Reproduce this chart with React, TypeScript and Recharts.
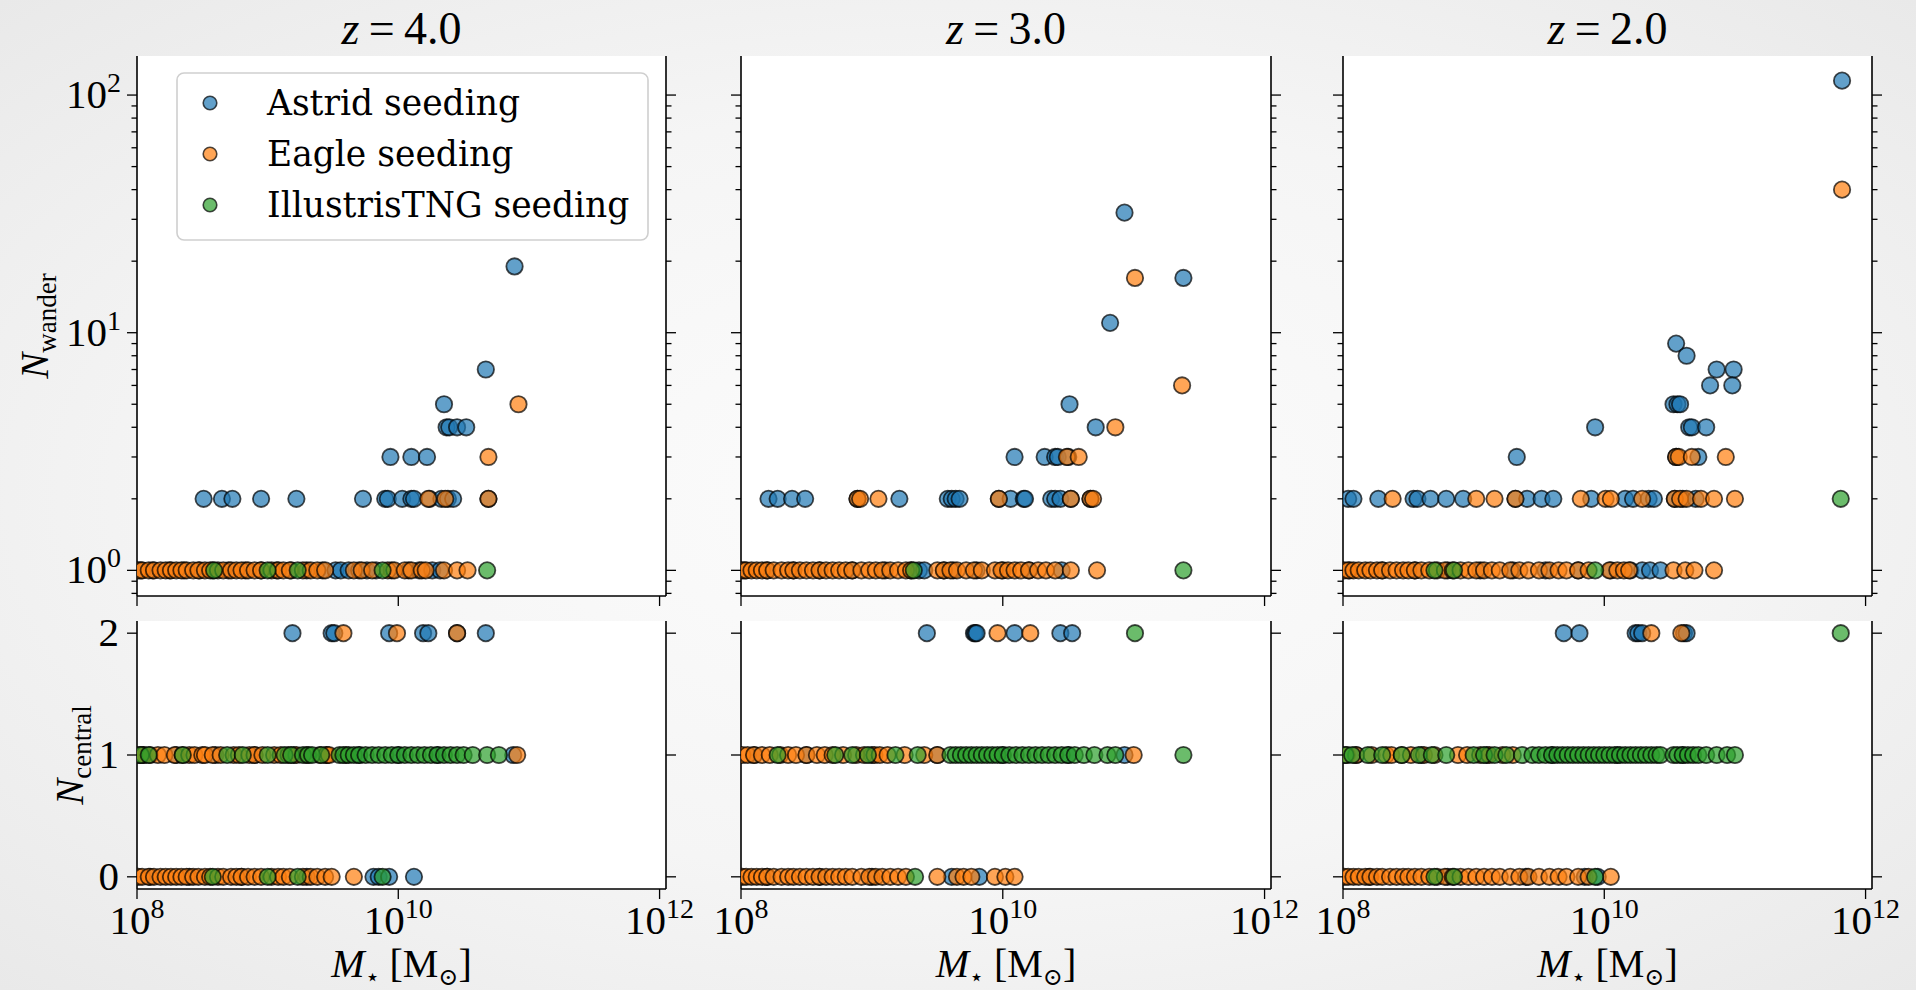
import { CartesianGrid, Scatter, ScatterChart, XAxis, YAxis } from 'recharts';

// [log10 M*, count]
type Pt = [number, number];
const at = (n: number, lgM: number[]): Pt[] => lgM.map((v) => [v, n] as Pt);

const seedings = ['Astrid seeding', 'Eagle seeding', 'IllustrisTNG seeding'];
const colors = ['#1f77b4', '#ff7f0e', '#2ca02c'];
const redshifts = ['4.0', '3.0', '2.0'];

const xTicks = [1e8, 1e10, 1e12];
const wanderTicks = [0.8, 0.9, 1, 2, 3, 4, 5, 6, 7, 8, 9, 10, 20, 30, 40, 50, 60, 70, 80, 90, 100];
const centralTicks = [0, 1, 2];

// ---- z = 4.0 ----
const z4WanderAstrid: Pt[] = [
  ...at(19, [10.89]), ...at(7, [10.67]), ...at(5, [10.35]),
  ...at(4, [10.37, 10.39, 10.45, 10.52]),
  ...at(3, [9.94, 10.1, 10.22]),
  ...at(2, [8.51, 8.65, 8.73, 8.95, 9.22, 9.73, 9.9, 9.92, 10.03, 10.1, 10.12, 10.24, 10.33, 10.38, 10.42, 10.69]),
  ...at(1, [8.03, 8.12, 8.25, 8.36, 8.48, 8.58, 8.7, 8.83, 8.95, 9.07, 9.18, 9.3, 9.42, 9.52, 9.56, 9.62, 9.7, 9.76, 9.83, 9.95, 10.08, 10.16, 10.26, 10.32]),
];
const z4WanderEagle: Pt[] = [
  ...at(5, [10.92]), ...at(3, [10.69]), ...at(2, [10.23, 10.36, 10.69]),
  ...at(1, [8.01, 8.04, 8.09, 8.13, 8.18, 8.22, 8.26, 8.3, 8.34, 8.38, 8.43, 8.47, 8.52, 8.56, 8.62, 8.66, 8.72, 8.76, 8.8, 8.85, 8.9, 8.95, 9.03, 9.08, 9.12, 9.17, 9.27, 9.33, 9.38, 9.44, 9.66, 9.72, 9.8, 9.92, 9.97, 10.05, 10.1, 10.18, 10.21, 10.35, 10.45, 10.53]),
];
const z4WanderTng: Pt[] = [...at(1, [8.59, 9.0, 9.23, 9.88, 10.68])];

const z4CentralAstrid: Pt[] = [
  ...at(2, [9.19, 9.49, 9.51, 9.93, 10.19, 10.23, 10.45, 10.67]),
  ...at(1, [8.05, 8.3, 8.6, 8.9, 9.2, 9.45, 9.7, 10.0, 10.3, 10.88]),
  ...at(0, [8.1, 8.4, 8.8, 9.3, 9.81, 9.85, 9.93, 10.12]),
];
const z4CentralEagle: Pt[] = [
  ...at(2, [9.58, 9.99, 10.45]),
  ...at(1, [8.02, 8.05, 8.1, 8.16, 8.21, 8.29, 8.35, 8.4, 8.44, 8.5, 8.52, 8.58, 8.64, 8.74, 8.78, 8.86, 8.9, 8.96, 9.05, 9.1, 9.16, 9.22, 9.3, 9.4, 9.45, 9.47, 9.6, 10.91]),
  ...at(0, [8.01, 8.04, 8.09, 8.13, 8.18, 8.22, 8.26, 8.3, 8.34, 8.38, 8.43, 8.47, 8.52, 8.56, 8.62, 8.66, 8.72, 8.76, 8.8, 8.85, 8.9, 8.95, 9.03, 9.08, 9.12, 9.17, 9.27, 9.33, 9.38, 9.44, 9.49, 9.66]),
];
const z4CentralTng: Pt[] = [
  ...at(1, [8.03, 8.09, 8.35, 8.69, 8.81, 9.0, 9.13, 9.18, 9.27, 9.31, 9.34, 9.41, 9.55, 9.58, 9.62, 9.66, 9.7, 9.75, 9.8, 9.85, 9.9, 9.95, 10.0, 10.05, 10.1, 10.15, 10.2, 10.25, 10.3, 10.35, 10.4, 10.45, 10.5, 10.57, 10.68, 10.77]),
  ...at(0, [8.58, 9.0, 9.23, 9.88]),
];

// ---- z = 3.0 ----
const z3WanderAstrid: Pt[] = [
  ...at(32, [10.93]), ...at(17, [11.38]), ...at(11, [10.82]), ...at(5, [10.51]), ...at(4, [10.71]),
  ...at(3, [10.09, 10.32, 10.4, 10.42, 10.5]),
  ...at(2, [8.21, 8.28, 8.39, 8.49, 8.89, 9.21, 9.58, 9.61, 9.64, 9.67, 9.97, 10.06, 10.16, 10.17, 10.37, 10.4, 10.44, 10.52, 10.67]),
  ...at(1, [8.03, 8.2, 8.4, 8.6, 8.85, 9.1, 9.3, 9.36, 9.4, 9.55, 9.62, 9.8, 10.0, 10.2, 10.45]),
];
const z3WanderEagle: Pt[] = [
  ...at(17, [11.01]), ...at(6, [11.37]), ...at(4, [10.86]), ...at(3, [10.49, 10.58]),
  ...at(2, [8.89, 8.91, 9.05, 9.97, 10.52, 10.67, 10.69]),
  ...at(1, [8.01, 8.04, 8.08, 8.12, 8.16, 8.2, 8.25, 8.31, 8.36, 8.4, 8.45, 8.5, 8.55, 8.6, 8.65, 8.7, 8.75, 8.8, 8.85, 8.92, 8.98, 9.03, 9.08, 9.14, 9.2, 9.26, 9.3, 9.5, 9.55, 9.6, 9.65, 9.72, 9.78, 9.84, 9.94, 9.99, 10.04, 10.09, 10.14, 10.2, 10.27, 10.33, 10.4, 10.52, 10.72]),
];
const z3WanderTng: Pt[] = [...at(1, [9.32, 11.38])];

const z3CentralAstrid: Pt[] = [
  ...at(2, [9.42, 9.78, 9.79, 9.8, 10.09, 10.44, 10.53]),
  ...at(1, [8.1, 8.5, 9.0, 9.5, 10.0, 10.5, 10.93]),
  ...at(0, [8.2, 8.6, 9.0, 9.61, 9.82]),
];
const z3CentralEagle: Pt[] = [
  ...at(2, [9.96, 10.21]),
  ...at(1, [8.01, 8.05, 8.1, 8.16, 8.22, 8.3, 8.36, 8.42, 8.5, 8.58, 8.64, 8.7, 8.78, 8.88, 8.94, 9.02, 9.06, 9.12, 9.25, 9.4, 9.5, 11.0]),
  ...at(0, [8.01, 8.04, 8.08, 8.12, 8.16, 8.2, 8.25, 8.31, 8.36, 8.4, 8.45, 8.5, 8.55, 8.6, 8.65, 8.7, 8.75, 8.8, 8.85, 8.92, 8.98, 9.03, 9.08, 9.14, 9.2, 9.26, 9.5, 9.65, 9.7, 9.76, 9.94, 10.02, 10.09]),
];
const z3CentralTng: Pt[] = [
  ...at(2, [11.01]),
  ...at(1, [8.28, 8.72, 8.85, 8.97, 9.18, 9.35, 9.6, 9.64, 9.68, 9.72, 9.76, 9.8, 9.84, 9.88, 9.92, 9.96, 10.0, 10.05, 10.1, 10.15, 10.2, 10.25, 10.3, 10.35, 10.4, 10.45, 10.5, 10.55, 10.62, 10.7, 10.8, 10.86, 11.38]),
  ...at(0, [9.33]),
];

// ---- z = 2.0 ----
const z2WanderAstrid: Pt[] = [
  ...at(115, [11.82]), ...at(9, [10.55]), ...at(8, [10.63]), ...at(7, [10.86, 10.99]), ...at(6, [10.81, 10.98]),
  ...at(5, [10.53, 10.56, 10.58]), ...at(4, [9.93, 10.65, 10.67, 10.78]), ...at(3, [9.33, 10.55, 10.72]),
  ...at(2, [8.04, 8.08, 8.27, 8.54, 8.57, 8.67, 8.79, 8.92, 9.32, 9.41, 9.52, 9.61, 9.9, 10.16, 10.22, 10.34, 10.38, 10.54, 10.6, 10.7]),
  ...at(1, [8.05, 8.3, 8.55, 8.8, 9.05, 9.3, 9.55, 9.8, 10.05, 10.2, 10.29, 10.35, 10.43]),
];
const z2WanderEagle: Pt[] = [
  ...at(40, [11.82]), ...at(3, [10.55, 10.57, 10.67, 10.93]),
  ...at(2, [8.38, 9.02, 9.16, 9.32, 9.82, 10.01, 10.05, 10.29, 10.54, 10.58, 10.63, 10.74, 10.84, 11.0]),
  ...at(1, [8.01, 8.04, 8.08, 8.12, 8.17, 8.21, 8.26, 8.3, 8.36, 8.41, 8.46, 8.5, 8.55, 8.6, 8.66, 8.72, 8.78, 8.84, 8.9, 8.96, 9.02, 9.08, 9.14, 9.2, 9.28, 9.35, 9.42, 9.5, 9.58, 9.65, 9.71, 9.8, 9.88, 10.04, 10.1, 10.15, 10.19, 10.53, 10.62, 10.69, 10.84]),
];
const z2WanderTng: Pt[] = [...at(2, [11.81]), ...at(1, [8.7, 8.85, 9.93])];

const z2CentralAstrid: Pt[] = [
  ...at(2, [9.69, 9.81, 10.24, 10.26, 10.29, 10.61, 10.63]),
  ...at(1, [8.1, 8.6, 9.1, 9.6, 10.1, 10.6]),
  ...at(0, [8.2, 8.8, 9.4, 9.85, 9.95]),
];
const z2CentralEagle: Pt[] = [
  ...at(2, [10.36, 10.59]),
  ...at(1, [8.03, 8.1, 8.22, 8.33, 8.37, 8.45, 8.52, 8.62, 8.7, 8.88, 8.95, 9.05, 9.12, 9.22, 9.3]),
  ...at(0, [8.01, 8.04, 8.08, 8.12, 8.17, 8.21, 8.26, 8.3, 8.36, 8.41, 8.46, 8.5, 8.55, 8.6, 8.66, 8.72, 8.78, 8.84, 8.9, 8.96, 9.02, 9.08, 9.14, 9.2, 9.28, 9.35, 9.42, 9.5, 9.58, 9.65, 9.71, 9.8, 9.88, 10.05]),
];
const z2CentralTng: Pt[] = [
  ...at(2, [11.81]),
  ...at(1, [8.02, 8.07, 8.19, 8.3, 8.45, 8.58, 8.68, 8.79, 9.0, 9.08, 9.16, 9.25, 9.37, 9.45, 9.5, 9.55, 9.6, 9.64, 9.68, 9.72, 9.76, 9.8, 9.84, 9.88, 9.92, 9.96, 10.0, 10.04, 10.08, 10.12, 10.16, 10.2, 10.24, 10.28, 10.32, 10.36, 10.4, 10.43, 10.53, 10.56, 10.6, 10.64, 10.68, 10.72, 10.78, 10.86, 10.94, 11.0]),
  ...at(0, [8.7, 8.85, 9.93]),
];

const wanderSets = [
  [z4WanderAstrid, z4WanderEagle, z4WanderTng],
  [z3WanderAstrid, z3WanderEagle, z3WanderTng],
  [z2WanderAstrid, z2WanderEagle, z2WanderTng],
];
const centralSets = [
  [z4CentralAstrid, z4CentralEagle, z4CentralTng],
  [z3CentralAstrid, z3CentralEagle, z3CentralTng],
  [z2CentralAstrid, z2CentralEagle, z2CentralTng],
];

// layout (px)
const colLeft = [137, 741, 1343];
const colWidth = [529, 530, 529];
const rowTop = [56, 621];
const rowHeight = [540, 268];
const LW = 137;
const RW = 60;
const MT = 30;

const MATH = "'Liberation Serif', 'DejaVu Serif', serif";
const TEXT = "'DejaVu Serif', serif";
const FS = 34.5;
const TFS = 41;

const toRows = (pts: Pt[]) => pts.map(([lgM, n]) => ({ m: 10 ** lgM, n }));

const dot = (color: string, r = 8.2) => (p: any) =>
  p.cx == null ? <g /> : (
    <circle cx={p.cx} cy={p.cy} r={r} fill={color} fillOpacity={0.7} stroke="#000" strokeOpacity={0.7} strokeWidth={1.8} />
  );

function XTick(props: any) {
  const { x, y, payload, labels } = props;
  const exp = Math.round(Math.log10(payload.value));
  return (
    <g>
      <line x1={x} y1={y} x2={x} y2={y + 10} stroke="#000" strokeWidth={1.3} />
      {labels && (
        <text x={x} y={y + 45} textAnchor="middle" fontFamily={MATH} fontSize={TFS} fill="#000">
          10<tspan dy={-16} fontSize={28}>{exp}</tspan>
        </text>
      )}
    </g>
  );
}

function YTick(props: any) {
  const { x, y, payload, side, labels, log } = props;
  const v = payload.value;
  const exp = [1, 10, 100].indexOf(v);
  const major = log ? exp >= 0 : true;
  const dir = side === 'left' ? -1 : 1;
  const len = major ? 10 : 5.5;
  return (
    <g>
      <line x1={x} y1={y} x2={x + dir * len} y2={y} stroke="#000" strokeWidth={1.3} />
      {labels && major && log && (
        <text x={x - 16} y={y + 13} textAnchor="end" fontFamily={MATH} fontSize={TFS} fill="#000">
          10<tspan dy={-16} fontSize={28}>{exp}</tspan>
        </text>
      )}
      {labels && !log && (
        <text x={x - 18} y={y + 13} textAnchor="end" fontFamily={MATH} fontSize={TFS} fill="#000">
          {v}
        </text>
      )}
    </g>
  );
}

function Panel({ col, row }: { col: number; row: number }) {
  const w = colWidth[col];
  const h = rowHeight[row];
  const BH = row === 0 ? 24 : 100;
  const log = row === 0;
  const sets = log ? wanderSets[col] : centralSets[col];
  const yDomain: [number, number] = log ? [0.78, 146] : [-0.1, 2.1];
  const yTicks = log ? wanderTicks : centralTicks;
  const frame = { stroke: '#000', strokeWidth: 1.6 };
  return (
    <div style={{ position: 'absolute', left: colLeft[col] - LW, top: rowTop[row] - MT }}>
      <ScatterChart width={LW + w + RW} height={MT + h + BH} margin={{ top: MT, right: 0, bottom: 0, left: 0 }}>
        <CartesianGrid horizontal={false} vertical={false} fill="#ffffff" fillOpacity={1} />
        <XAxis
          dataKey="m"
          type="number"
          scale="log"
          domain={[1e8, 1.12e12]}
          allowDataOverflow
          ticks={xTicks}
          interval={0}
          height={BH}
          tickSize={0}
          tickMargin={0}
          tickLine={false}
          axisLine={frame}
          tick={(p: any) => <XTick {...p} labels={row === 1} />}
        />
        <XAxis xAxisId="top" orientation="top" type="number" scale="log" domain={[1e8, 1.12e12]} allowDataOverflow height={0} tick={false} tickLine={false} axisLine={frame} />
        <YAxis
          dataKey="n"
          type="number"
          scale={log ? 'log' : 'linear'}
          domain={yDomain}
          allowDataOverflow
          ticks={yTicks}
          interval={0}
          width={LW}
          tickSize={0}
          tickMargin={0}
          tickLine={false}
          axisLine={frame}
          tick={(p: any) => <YTick {...p} side="left" labels={col === 0} log={log} />}
        />
        <YAxis
          yAxisId="right"
          orientation="right"
          type="number"
          scale={log ? 'log' : 'linear'}
          domain={yDomain}
          allowDataOverflow
          ticks={yTicks}
          interval={0}
          width={RW}
          tickSize={0}
          tickMargin={0}
          tickLine={false}
          axisLine={frame}
          tick={(p: any) => <YTick {...p} side="right" labels={false} log={log} />}
        />
        {sets.map((pts, i) => (
          <Scatter key={seedings[i]} name={seedings[i]} data={toRows(pts)} shape={dot(colors[i])} isAnimationActive={false} />
        ))}
      </ScatterChart>
    </div>
  );
}

const legendRows = [103, 154, 205];

export default function App() {
  return (
    <div
      style={{
        position: 'absolute',
        left: 0,
        top: 0,
        width: 1916,
        height: 990,
        overflow: 'hidden',
        background: 'radial-gradient(ellipse at 50% 50%, #fcfcfc 0%, #f5f5f5 55%, #e9e9e9 100%)',
      }}
    >
      {[0, 1, 2].map((c) => (
        <div key={c}>
          <Panel col={c} row={0} />
          <Panel col={c} row={1} />
        </div>
      ))}
      <svg width={1916} height={990} style={{ position: 'absolute', left: 0, top: 0, pointerEvents: 'none' }}>
        {redshifts.map((z, c) => {
          const cx = colLeft[c] + colWidth[c] / 2;
          return (
            <g key={z}>
              <text x={cx} y={44} textAnchor="middle" fontFamily={MATH} fontSize={46} fill="#000">
                <tspan fontStyle="italic">z</tspan>
                {'\u2009=\u2009' + z}
              </text>
              <text x={cx} y={977} textAnchor="middle" fontFamily={MATH} fontSize={40} fill="#000">
                <tspan fontStyle="italic">M</tspan>
                <tspan fontSize={24} dy={8}>{'\u22C6'}</tspan>
                <tspan dy={-8}>{' [M'}</tspan>
                <tspan fontSize={24} dy={8}>{'\u2299'}</tspan>
                <tspan dy={-8}>{']'}</tspan>
              </text>
            </g>
          );
        })}
        <text transform="translate(48,326) rotate(-90)" textAnchor="middle" fontFamily={MATH} fontSize={39} fill="#000">
          <tspan fontStyle="italic">N</tspan>
          <tspan fontSize={27} dy={8}>wander</tspan>
        </text>
        <text transform="translate(83,755) rotate(-90)" textAnchor="middle" fontFamily={MATH} fontSize={39} fill="#000">
          <tspan fontStyle="italic">N</tspan>
          <tspan fontSize={27} dy={8}>central</tspan>
        </text>
        <rect x={177} y={73} width={471} height={167} rx={7} fill="#fff" fillOpacity={0.85} stroke="#cfcfcf" strokeWidth={1.6} />
        {seedings.map((s, i) => (
          <g key={s}>
            <circle cx={210} cy={legendRows[i]} r={6.8} fill={colors[i]} fillOpacity={0.7} stroke="#000" strokeOpacity={0.7} strokeWidth={1.6} />
            <text x={267} y={legendRows[i] + 12} fontFamily={TEXT} fontSize={FS} fill="#000">
              {s}
            </text>
          </g>
        ))}
      </svg>
    </div>
  );
}
